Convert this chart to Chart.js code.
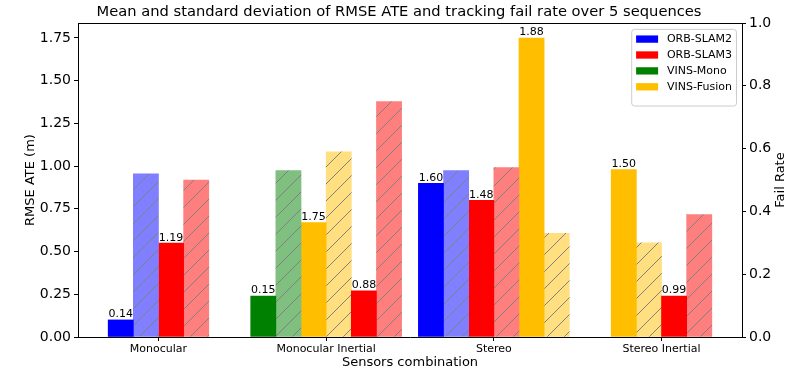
<!DOCTYPE html>
<html>
<head>
<meta charset="utf-8">
<script src="https://cdn.jsdelivr.net/npm/chart.js@4.4.0/dist/chart.umd.min.js"></script>
<style>
  html, body { margin: 0; padding: 0; background: #fff; }
  #wrap { width: 798px; height: 373px; }
</style>
</head>
<body>
<div id="wrap"><canvas id="chart"></canvas></div>
<script>
// Categories and methods
const categories = ['Monocular', 'Monocular Inertial', 'Stereo', 'Stereo Inertial'];
const methods = ['ORB-SLAM2', 'ORB-SLAM3', 'VINS-Mono', 'VINS-Fusion'];

// Order of methods inside each sensor group
const groupOrder = [
    ['ORB-SLAM2', 'ORB-SLAM3'],
    ['VINS-Mono', 'VINS-Fusion', 'ORB-SLAM3'],
    ['ORB-SLAM2', 'ORB-SLAM3', 'VINS-Fusion'],
    ['VINS-Fusion', 'ORB-SLAM3']
];

// Mean RMSE ATE (m), per category
const orbSlam2Mean = [0.10, null, 0.90, null];
const orbSlam3Mean = [0.55, 0.27, 0.80, 0.24];
const vinsMonoMean = [null, 0.24, null, null];
const vinsFusionMean = [null, 0.67, 1.75, 0.98];

// Standard deviation (labels over the bars)
const orbSlam2Std = [0.14, null, 1.60, null];
const orbSlam3Std = [1.19, 0.88, 1.48, 0.99];
const vinsMonoStd = [null, 0.15, null, null];
const vinsFusionStd = [null, 1.75, 1.88, 1.50];

// Tracking fail rate
const orbSlam2Fail = [0.52, null, 0.53, null];
const orbSlam3Fail = [0.50, 0.75, 0.54, 0.39];
const vinsMonoFail = [null, 0.53, null, null];
const vinsFusionFail = [null, 0.59, 0.33, 0.30];

const leftTicksMax = 1.75;
const failTicks = [0, 0.2, 0.4, 0.6, 0.8, 1.0];

const series = {
    'ORB-SLAM2': { mean: orbSlam2Mean, std: orbSlam2Std, fail: orbSlam2Fail, color: '#0000ff', light: '#7f7fff' },
    'ORB-SLAM3': { mean: orbSlam3Mean, std: orbSlam3Std, fail: orbSlam3Fail, color: '#ff0000', light: '#ff7f7f' },
    'VINS-Mono': { mean: vinsMonoMean, std: vinsMonoStd, fail: vinsMonoFail, color: '#008000', light: '#7fbf7f' },
    'VINS-Fusion': { mean: vinsFusionMean, std: vinsFusionStd, fail: vinsFusionFail, color: '#ffbf00', light: '#ffdf7f' }
};

const BAR_W = 0.15;
const FONT = "'DejaVu Sans', sans-serif";

Chart.defaults.font.family = FONT;
Chart.defaults.color = '#000';

function hatch(color) {
    const size = 17;
    const c = document.createElement('canvas');
    c.width = c.height = size;
    const g = c.getContext('2d');
    g.fillStyle = color;
    g.fillRect(0, 0, size, size);
    g.strokeStyle = '#808080';
    g.lineWidth = 1;
    g.beginPath();
    g.moveTo(0, size); g.lineTo(size, 0);
    g.moveTo(-2, 2); g.lineTo(2, -2);
    g.moveTo(size - 2, size + 2); g.lineTo(size + 2, size - 2);
    g.stroke();
    return g.createPattern(c, 'repeat');
}

// build datasets: one solid (left axis) and one hatched (right axis) per method
const datasets = [];
methods.forEach(m => {
    const s = series[m];
    const solid = [], hatched = [];
    categories.forEach((cat, c) => {
        const k = groupOrder[c].indexOf(m);
        if (k < 0) return;
        const n = groupOrder[c].length * 2;
        solid.push({ x: c + (2 * k - (n - 1) / 2) * BAR_W, y: s.mean[c], std: s.std[c] });
        hatched.push({ x: c + (2 * k + 1 - (n - 1) / 2) * BAR_W, y: s.fail[c] });
    });
    datasets.push({ label: m, data: solid, yAxisID: 'y', backgroundColor: s.color, solid: true });
    datasets.push({ label: m + ' fail', data: hatched, yAxisID: 'y1', backgroundColor: hatch(s.light) });
});

const extras = {
    id: 'extras',
    afterDatasetsDraw(chart) {
        const ctx = chart.ctx;
        ctx.save();
        ctx.font = '11px ' + FONT;
        ctx.fillStyle = '#000';
        ctx.textAlign = 'center';
        ctx.textBaseline = 'alphabetic';
        chart.data.datasets.forEach((ds, i) => {
            if (!ds.solid) return;
            chart.getDatasetMeta(i).data.forEach((el, j) => {
                ctx.fillText(ds.data[j].std.toFixed(2), el.x, el.y - 2.5);
            });
        });
        ctx.restore();
    },
    afterDraw(chart) {
        const ctx = chart.ctx;
        const a = chart.chartArea;
        ctx.save();
        // top spine
        ctx.strokeStyle = '#000';
        ctx.lineWidth = 1;
        ctx.beginPath();
        ctx.moveTo(a.left, Math.round(a.top) + 0.5);
        ctx.lineTo(a.right, Math.round(a.top) + 0.5);
        ctx.stroke();

        // right axis title
        ctx.font = '13px ' + FONT;
        ctx.fillStyle = '#000';
        ctx.textAlign = 'center';
        ctx.textBaseline = 'middle';
        ctx.translate(781, (a.top + a.bottom) / 2);
        ctx.rotate(-Math.PI / 2);
        ctx.fillText('Fail Rate', 0, 0);
        ctx.restore();

        // legend
        ctx.save();
        ctx.font = '11px ' + FONT;
        const fs = 11;
        const textW = Math.max(...methods.map(m => ctx.measureText(m).width));
        const boxW = 0.4 * fs * 2 + 2 * fs + 0.8 * fs + textW;
        const boxH = 76.7;
        const bx = a.right - 0.5 * fs - boxW;
        const by = a.top + 6.3;
        ctx.fillStyle = 'rgba(255,255,255,0.8)';
        ctx.strokeStyle = '#cccccc';
        ctx.lineWidth = 1;
        ctx.beginPath();
        ctx.roundRect(bx, by, boxW, boxH, 3);
        ctx.fill();
        ctx.stroke();
        ctx.textAlign = 'left';
        ctx.textBaseline = 'middle';
        methods.forEach((m, i) => {
            const cy = by + 9.7 + i * 15.9;
            ctx.fillStyle = series[m].color;
            ctx.fillRect(bx + 0.4 * fs, cy - 3.6, 2 * fs, 7.3);
            ctx.fillStyle = '#000';
            ctx.fillText(m, bx + 0.4 * fs + 2.8 * fs, cy + 0.5);
        });
        ctx.restore();
    }
};

new Chart(document.getElementById('chart'), {
    type: 'bar',
    data: { datasets: datasets },
    options: {
        responsive: true,
        maintainAspectRatio: false,
        animation: false,
        devicePixelRatio: 1,
        layout: { padding: 0 },
        datasets: {
            bar: { grouped: false, categoryPercentage: 1, barPercentage: 1, borderWidth: 0 }
        },
        plugins: {
            legend: { display: false },
            tooltip: { enabled: false },
            title: {
                display: true,
                text: 'Mean and standard deviation of RMSE ATE and tracking fail rate over 5 sequences',
                font: { size: 14.7, weight: 'normal' },
                color: '#000',
                padding: { top: 3.5, bottom: 1.9 }
            }
        },
        scales: {
            x: {
                type: 'linear',
                min: -0.48,
                max: 3.48,
                offset: false,
                afterBuildTicks: scale => {
                    scale.ticks = categories.map((c, i) => ({ value: i }));
                },
                afterFit: scale => { scale.height = 36; },
                ticks: {
                    callback: v => categories[v],
                    font: { size: 11 },
                    padding: 2,
                    maxRotation: 0,
                    autoSkip: false
                },
                grid: { display: true, offset: false, drawOnChartArea: false, tickLength: 4, tickColor: '#000' },
                border: { color: '#000', width: 1 },
                title: {
                    display: true,
                    text: 'Sensors combination',
                    font: { size: 13 },
                    padding: { top: 0, bottom: 2.5 }
                }
            },
            y: {
                position: 'left',
                min: 0,
                max: leftTicksMax * 1.05,
                afterFit: scale => { scale.width = 78; },
                ticks: {
                    stepSize: 0.25,
                    includeBounds: false,
                    callback: v => v.toFixed(2),
                    font: { size: 14 },
                    padding: 3
                },
                grid: { display: true, drawOnChartArea: false, tickLength: 4, tickColor: '#000' },
                border: { color: '#000', width: 1 },
                title: {
                    display: true,
                    text: 'RMSE ATE (m)',
                    font: { size: 13 },
                    padding: { top: 23, bottom: 0 }
                }
            },
            y1: {
                position: 'right',
                min: 0,
                max: 1,
                afterBuildTicks: scale => {
                    scale.ticks = failTicks.map(v => ({ value: v }));
                },
                afterFit: scale => { scale.width = 56; },
                ticks: {
                    callback: v => v.toFixed(1),
                    font: { size: 14 },
                    padding: 3
                },
                grid: { display: true, drawOnChartArea: false, tickLength: 4, tickColor: '#000' },
                border: { color: '#000', width: 1 }
            }
        }
    },
    plugins: [extras]
});
</script>
</body>
</html>
